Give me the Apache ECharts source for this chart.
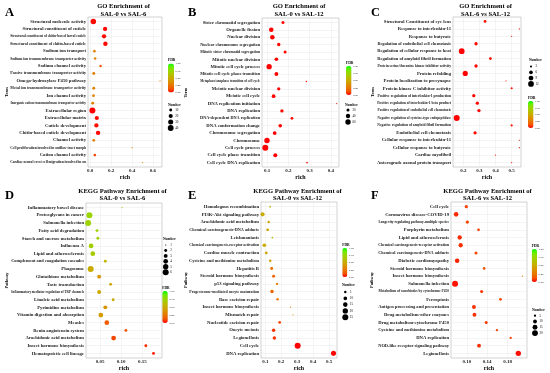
<!DOCTYPE html>
<html><head><meta charset="utf-8">
<script src="https://cdn.jsdelivr.net/npm/echarts@6/dist/echarts.min.js"></script>
<style>html,body{margin:0;padding:0;background:#fff}#c{width:550px;height:373px}</style>
</head><body><div id="c"></div>
<script>
// ---------------- DATA ----------------
const termsA = ['Structural molecule activity','Structural constituent of cuticle','Structural constituent of chitin-based larval cuticle','Structural constituent of chitin-based cuticle','Sodium ion transport','Sodium ion transmembrane transporter activity','Sodium channel activity','Passive transmembrane transporter activity','Omega-hydroxylase P450 pathway','Metal ion transmembrane transporter activity','Ion channel activity','Inorganic cation transmembrane transporter activity','Extracellular region','Extracellular matrix','Cuticle development','Chitin-based cuticle development','Channel activity','Cell proliferation involved in outflow tract morph','Cation channel activity','Cardiac neural crest cell migration involved in ou'];
const richA = [0.031,0.143,0.133,0.146,0.041,0.048,0.100,0.035,0.667,0.035,0.032,0.025,0.022,0.064,0.060,0.076,0.035,0.400,0.045,0.500];
const fdrA = [0.01,0.01,0.01,0.01,0.30,0.32,0.12,0.30,0.35,0.30,0.30,0.30,0.00,0.02,0.02,0.01,0.30,0.35,0.10,0.35];
const countA = [35,22,22,23,8,8,7,10,2,10,9,10,42,21,22,23,9,2,8,2];

const termsB = ['Sister chromatid segregation','Organelle fission','Nuclear division','Nuclear chromosome segregation','Mitotic sister chromatid segregation','Mitotic nuclear division','Mitotic cell cycle process','Mitotic cell cycle phase transition','Metaphase/anaphase transition of cell cycle','Meiotic nuclear division','Meiotic cell cycle','DNA replication initiation','DNA replication','DNA-dependent DNA replication','DNA conformation change','Chromosome segregation','Chromosome','Cell cycle process','Cell cycle phase transition','Cell cycle DNA replication'];
const richB = [0.175,0.120,0.125,0.155,0.185,0.144,0.110,0.144,0.285,0.155,0.131,0.427,0.170,0.217,0.162,0.136,0.100,0.092,0.139,0.288];
const fdrB = [0.01,0.00,0.00,0.01,0.01,0.00,0.00,0.00,0.03,0.01,0.00,0.03,0.01,0.01,0.00,0.00,0.00,0.00,0.00,0.02];
const countB = [20,45,44,25,20,28,60,32,5,24,30,4,24,17,28,30,62,75,35,7];

const termsC = ['Structural Constituent of eye lens','Response to interleukin-11','Response to butyrate','Regulation of endothelial cell chemotaxis','Regulation of cellular response to heat','Regulation of amyloid fibril formation','Protein serine/threonine kinase inhibitor activity','Protein refolding','Protein localization to presynapse','Protein kinase C inhibitor activity','Positive regulation of interleukin-1 production','Positive regulation of interleukin-1 beta product','Positive regulation of endothelial cell chemotaxis','Negative regulation of cysteine-type endopeptidase','Negative regulation of amyloid fibril formation','Endothelial cell chemotaxis','Cellular response to interleukin-11','Cellular response to butyrate','Cardiac myofibril','Anterograde axonal protein transport'];
const richC = [0.335,0.548,0.500,0.279,0.190,0.368,0.279,0.212,0.465,0.500,0.265,0.287,0.297,0.159,0.500,0.273,0.548,0.548,0.400,0.500];
const fdrC = [0.02,0.04,0.04,0.01,0.00,0.02,0.01,0.00,0.04,0.03,0.01,0.01,0.01,0.00,0.03,0.01,0.04,0.04,0.04,0.04];
const countC = [4,2,2,5,12,4,5,10,2,3,5,5,5,13,3,5,2,2,2,2];

const termsD = ['Inflammatory bowel disease','Proteoglycans in cancer','Salmonella infection','Fatty acid degradation','Starch and sucrose metabolism','Influenza A','Lipid and atherosclerosis','Complement and coagulation cascades','Phagosome','Glutathione metabolism','Taste transduction','Inflammatory mediator regulation of TRP channels','Linoleic acid metabolism','Pyrimidine metabolism','Vitamin digestion and absorption','Measles','Renin angiotensin system','Arachidonic acid metabolism','Insect hormone biosynthesis','Hematopoietic cell lineage'];
const richD = [0.102,0.025,0.022,0.043,0.045,0.029,0.033,0.0625,0.028,0.048,0.075,0.048,0.081,0.0625,0.052,0.066,0.111,0.082,0.158,0.176];
const fdrD = [0.72,0.74,0.72,0.72,0.70,0.70,0.68,0.56,0.50,0.40,0.46,0.48,0.50,0.38,0.42,0.15,0.12,0.10,0.06,0.04];
const countD = [1,6,6,2,2,4,4,2,6,3,2,3,2,3,4,4,2,4,2,2];

const termsE = ['Homologous recombination','PI3K-Akt signaling pathway','Arachidonic acid metabolism','Chemical carcinogenesis-DNA adducts','Leishmaniasis','Chemical carcinogenesis-receptor activation','Cardiac muscle contraction','Cysteine and methionine metabolism','Hepatitis B','Steroid hormone biosynthesis','p53 signaling pathway','Progesterone-mediated oocyte maturation','Base excision repair','Insect hormone biosynthesis','Mismatch repair','Nucleotide excision repair','Oocyte meiosis','Legionellosis','Cell cycle','DNA replication'];
const richE = [0.130,0.083,0.121,0.115,0.144,0.094,0.106,0.131,0.140,0.152,0.174,0.142,0.177,0.259,0.274,0.190,0.152,0.157,0.303,0.528];
const fdrE = [0.55,0.50,0.45,0.48,0.58,0.50,0.45,0.42,0.22,0.18,0.30,0.18,0.27,0.30,0.30,0.10,0.07,0.07,0.00,0.00];
const countE = [3,12,5,6,3,10,6,5,7,7,5,9,5,2,2,6,9,9,25,18];

const termsF = ['Cell cycle','Coronavirus disease-COVID-19','Longevity regulating pathway-multiple species','Porphyrin metabolism','Lipid and atherosclerosis','Chemical carcinogenesis-receptor activation','Chemical carcinogenesis-DNA adducts','Diabetic cardiomyopathy','Steroid hormone biosynthesis','Insect hormone biosynthesis','Salmonella infection','Metabolism of xenobiotics by cytochrome P450','Ferroptosis','Antigen processing and presentation','Drug metabolism-other enzymes','Drug metabolism-cytochrome P450','Cysteine and methionine metabolism','DNA replication','NOD-like receptor signaling pathway','Legionellosis'];
const richF = [0.099,0.079,0.101,0.123,0.086,0.088,0.118,0.081,0.134,0.209,0.077,0.129,0.166,0.114,0.115,0.138,0.159,0.186,0.124,0.201];
const fdrF = [0.10,0.06,0.10,0.10,0.06,0.07,0.10,0.05,0.12,0.25,0.03,0.08,0.10,0.07,0.07,0.08,0.10,0.10,0.07,0.02];
const countF = [8,13,8,6,12,12,7,13,6,3,21,7,6,10,10,7,5,5,10,17];

const ticksA = [0.0,0.2,0.4,0.6];
const ticksB = [0.1,0.2,0.3,0.4];
const ticksC = [0.2,0.3,0.4,0.5];
const ticksD = [0.05,0.10,0.15];
const ticksE = [0.1,0.2,0.3,0.4,0.5];
const ticksF = [0.10,0.14,0.18];

const numA = [10,20,30,40];
const numB = [20,40,60];
const numC = [3,6,9,12];
const numD = [1,2,3,4,5,6];
const numE = [5,10,15,20,25];
const numF = [5,10,15,20];

const fdrLabels = ['1.00','0.75','0.50','0.25','0.00'];

// ---------------- LAYOUT ----------------
const FONT = '"Liberation Serif","Times New Roman",serif';
const COLORS = ['#ff0000','#f35500','#e87600','#da9200','#c9ab00','#b3c200','#98d700','#70eb00','#00ff00'];
const D0 = 1.2, D1 = 6;

const panels = [
  {letter:'A', l1:'GO Enrichment of', l2:'SAL-0 vs SAL-6', yName:'Term', terms:termsA, rich:richA, fdr:fdrA, count:countA, ticks:ticksA, dec:1, num:numA,
   g:[88,17,162,167], xr:[-0.02,0.686], labelW:76, letterXY:[5,12.5], tY:[6.7,14], yNameX:7, nameGap:7,
   fdrBox:[168,63.5,6,29], numBox:[168,105,170.7,110,6]},
  {letter:'B', l1:'GO Enrichment of', l2:'SAL-0 vs SAL-12', yName:'Term', terms:termsB, rich:richB, fdr:fdrB, count:countB, ticks:ticksB, dec:1, num:numB,
   g:[262,18,339,167], xr:[0.0765,0.438], labelW:60, letterXY:[188,12.5], tY:[6.7,14], yNameX:186, nameGap:7,
   fdrBox:[346,66,5.5,29], numBox:[345,105,348,110,6]},
  {letter:'C', l1:'GO Enrichment of', l2:'SAL-6 vs SAL-12', yName:'Term', terms:termsC, rich:richC, fdr:fdrC, count:countC, ticks:ticksC, dec:1, num:numC,
   g:[453,17,521,167], xr:[0.136,0.558], labelW:74, letterXY:[371,12.5], tY:[6.7,14], yNameX:373, nameGap:7,
   fdrBox:[528,101,5.5,27], numBox:[529,60,531,66.5,5.8]},
  {letter:'D', l1:'KEGG Pathway Enrichment of', l2:'SAL-0 vs SAL-6', yName:'Pathway', terms:termsD, rich:richD, fdr:fdrD, count:countD, ticks:ticksD, dec:2, num:numD,
   g:[86,203,162,358], xr:[0.017,0.196], labelW:73, letterXY:[5,196], tY:[191,198], yNameX:7, nameGap:6,
   fdrBox:[162.3,291,5.5,32], numBox:[163,239,165.7,245,5.45]},
  {letter:'E', l1:'KEGG Pathway Enrichment of', l2:'SAL-0 vs SAL-12', yName:'Pathway', terms:termsE, rich:richE, fdr:fdrE, count:countE, ticks:ticksE, dec:1, num:numE,
   g:[261,202,337,358], xr:[0.073,0.55], labelW:70, letterXY:[188,196], tY:[191,198], yNameX:186, nameGap:6,
   fdrBox:[342.3,248,5,29], numBox:[342,285,345.3,292,6.3]},
  {letter:'F', l1:'KEGG Pathway Enrichment of', l2:'SAL-6 vs SAL-12', yName:'Pathway', terms:termsF, rich:richF, fdr:fdrF, count:countF, ticks:ticksF, dec:2, num:numF,
   g:[451,202,527,358], xr:[0.069,0.218], labelW:71, letterXY:[371,196], tY:[191,198], yNameX:372, nameGap:6,
   fdrBox:[531.7,249,5.3,33], numBox:[532,310,535,315.7,5.8]}
];

const ctx = document.createElement('canvas').getContext('2d');
function fitSize(text, maxW, maxF) {
  ctx.font = 'bold 20px "Liberation Serif"';
  const w = ctx.measureText(text).width / 20;
  return Math.min(maxF, maxW / w);
}
function sizeFn(counts) {
  const lo = Math.min(...counts), hi = Math.max(...counts);
  return n => Math.sqrt(D0*D0 + (D1*D1 - D0*D0) * Math.max(0, n - lo) / (hi - lo));
}

const graphics = [];
function txt(x, y, text, size, o) {
  o = o || {};
  graphics.push({type:'text', x:x, y:y, rotation:o.rot||0, silent:true, z:100,
    style:{text:text, fontSize:size, fontFamily:FONT, fontWeight:o.w||'bold', fill:o.c||'#000',
      align:o.a||'left', verticalAlign:o.v||'middle'}});
}

const option = {animation:false, grid:[], xAxis:[], yAxis:[], series:[], visualMap:[], graphic:{elements:graphics}};

panels.forEach((p, i) => {
  const g = p.g;
  const sz = sizeFn(p.count);
  option.grid.push({left:g[0], top:g[1], width:g[2]-g[0], height:g[3]-g[1], show:true,
    borderColor:'#b5b5b5', borderWidth:0.6, backgroundColor:'#fff', containLabel:false, outerBoundsMode:'none'});
  const rich = {};
  p.terms.forEach((t, j) => {
    rich['r'+j] = {fontSize:fitSize(t, p.labelW, 4.7), fontWeight:'bold', fontFamily:FONT, color:'#1a1a1a'};
  });
  option.xAxis.push({type:'value', gridIndex:i, min:p.xr[0], max:p.xr[1],
    axisLine:{show:false}, axisTick:{show:false, customValues:p.ticks},
    axisLabel:{customValues:p.ticks, formatter:v => Number(v).toFixed(p.dec), fontSize:5, fontWeight:'bold', fontFamily:FONT, color:'#222', margin:1.5},
    splitLine:{show:true, customValues:p.ticks, lineStyle:{color:'#e9e9e9', width:0.5}},
    name:'rich', nameLocation:'middle', nameGap:p.nameGap,
    nameTextStyle:{fontSize:6, fontWeight:'bold', fontFamily:FONT, color:'#000'}});
  const idx = p.terms.map((t, j) => j + 1);
  option.yAxis.push({type:'value', gridIndex:i, inverse:true, min:0.4, max:p.terms.length + 0.6,
    axisLine:{show:false}, axisTick:{show:false, customValues:idx},
    axisLabel:{customValues:idx, margin:2, rich:rich,
      formatter:v => { const j = Math.round(v) - 1; return '{r'+j+'|'+p.terms[j]+'}'; }},
    splitLine:{show:true, customValues:idx, lineStyle:{color:'#e9e9e9', width:0.5}}});
  option.series.push({type:'scatter', xAxisIndex:i, yAxisIndex:i, silent:true,
    data:p.terms.map((t, j) => [p.rich[j], j + 1, p.fdr[j], p.count[j], t]),
    symbolSize:v => sz(v[3]), itemStyle:{opacity:1}, z:5});
  const fb = p.fdrBox;
  option.visualMap.push({type:'continuous', seriesIndex:i, dimension:2, min:0, max:1,
    inRange:{color:COLORS}, show:true, calculable:false, hoverLink:false, realtime:false,
    left:fb[0], top:fb[1], itemWidth:fb[2], itemHeight:fb[3], padding:0, text:null});
  // FDR legend labels
  txt(fb[0], fb[1] - 3, 'FDR', 3.6);
  fdrLabels.forEach((s, k) => txt(fb[0] + fb[2] + 1.5, fb[1] + k * fb[3] / 4, s, 2.9, {w:'normal'}));
  // Number legend
  const nb = p.numBox;
  txt(nb[0], nb[1], 'Number', 3.6);
  p.num.forEach((n, k) => {
    const cy = nb[3] + k * nb[4];
    graphics.push({type:'circle', silent:true, z:100, shape:{cx:nb[2], cy:cy, r:sz(n)/2}, style:{fill:'#000'}});
    txt(nb[2] + 4.5, cy, String(n), 3.2, {w:'normal'});
  });
  // letter, title, y name
  txt(p.letterXY[0], p.letterXY[1], p.letter, 12.5);
  const cx = (g[0] + g[2]) / 2 - 1.5;
  txt(cx, p.tY[0], p.l1, 6.6, {a:'center'});
  txt(cx, p.tY[1], p.l2, 6.6, {a:'center'});
  txt(p.yNameX, (g[1] + g[3]) / 2, p.yName, 4.3, {a:'center', rot:Math.PI/2});
});

const chart = echarts.init(document.getElementById('c'), null, {renderer:'canvas'});
chart.setOption(option);
</script></body></html>
